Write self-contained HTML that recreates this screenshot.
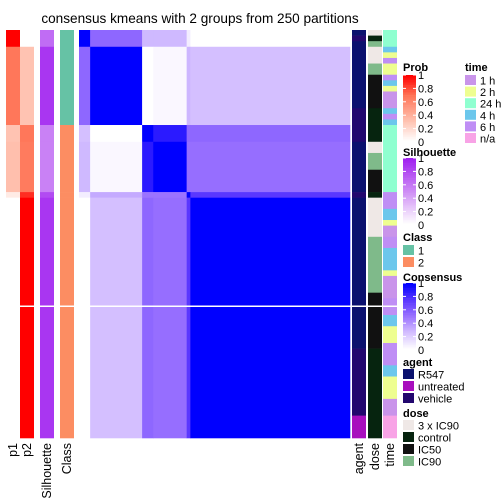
<!DOCTYPE html>
<html><head><meta charset="utf-8">
<style>
html,body{margin:0;padding:0;background:#fff;}
svg{display:block;font-family:"Liberation Sans",sans-serif;}
</style></head>
<body>
<svg id="chart" width="504" height="504" viewBox="0 0 504 504" xmlns="http://www.w3.org/2000/svg">
<text x="200" y="23" text-anchor="middle" font-size="13.6" fill="#000">consensus kmeans with 2 groups from 250 partitions</text>
<g id="hm"></g>
<g id="legends"></g>
</svg>
<script>
// segment sizes (samples) of the ordered groups
const segSizes = [3, 14, 3, 9, 1, 43];
// consensus values between segments
const consensus = [
 [1.00, 0.55, 0.27, 0.27, 0.07, 0.00],
 [0.55, 1.00, 0.00, 0.03, 0.28, 0.25],
 [0.25, 0.00, 1.00, 0.88, 0.55, 0.55],
 [0.27, 0.03, 0.88, 1.00, 0.52, 0.52],
 [0.07, 0.32, 0.50, 0.50, 1.00, 0.75],
 [0.00, 0.25, 0.55, 0.52, 0.75, 1.00]
];
const probP1 = [1.0, 0.68, 0.3, 0.32, 0.1, 0.0];
const probP2 = [0.0, 0.3, 0.68, 0.66, 0.88, 1.0];
const silhouette = [0.65, 0.9, 0.55, 0.55, 0.8, 0.9];
const classes = [1, 1, 2, 2, 2, 2];
// right annotation runs: [level, count]
const agentRuns = [["R547",1],["vehicle",1],["R547",12],["vehicle",6],["R547",9],["vehicle",1],["R547",27],["vehicle",12],["untreated",4]];
const doseRuns = [["3xIC90",1],["control",1],["IC90",1],["3xIC90",3],["IC90",2],["IC50",6],["control",6],["3xIC90",2],["IC90",3],["IC50",4],["control",1],["3xIC90",7],["IC90",10],["IC50",10],["control",16]];
const timeRuns = [["24h",3],["4h",1],["2h",1],["6h",1],["2h",2],["6h",1],["4h",1],["2h",1],["1h",3],["4h",1],["6h",1],["4h",1],["24h",12],["6h",3],["4h",2],["2h",1],["1h",2],["6h",2],["4h",4],["2h",1],["1h",4],["6h",3],["4h",2],["2h",3],["6h",4],["4h",2],["2h",4],["1h",3],["n/a",4]];
const legendTicks = ["1","0.8","0.6","0.4","0.2","0"];

const agentCol = {"R547":"#0b116e","untreated":"#a80fbe","vehicle":"#22076e"};
const doseCol = {"3xIC90":"#efe8e6","control":"#06240f","IC50":"#111111","IC90":"#7fba8a"};
const timeCol = {"1h":"#c994ea","2h":"#eefe90","24h":"#8fffd0","4h":"#6cc7ec","6h":"#bf8ef5","n/a":"#f8a3e6"};
const classCol = {1:"#66c2a5",2:"#fc8d62"};

const NS="http://www.w3.org/2000/svg";
function mk(tag, attrs, parent){const e=document.createElementNS(NS,tag);for(const k in attrs)e.setAttribute(k,attrs[k]);parent.appendChild(e);return e;}
function lerp(a,b,t){return Math.round(a+(b-a)*t);}
function ramp(stops,v){v=Math.max(0,Math.min(1,v));for(let i=1;i<stops.length;i++){if(v<=stops[i][0]){const s=stops[i-1],e=stops[i],t=(v-s[0])/(e[0]-s[0]);return `rgb(${lerp(s[1][0],e[1][0],t)},${lerp(s[1][1],e[1][1],t)},${lerp(s[1][2],e[1][2],t)})`;}}return "#000";}
const consStops=[[0,[255,255,255]],[0.25,[212,191,255]],[0.5,[155,115,255]],[0.75,[90,55,255]],[1,[0,0,255]]];
const probStops=[[0,[255,255,255]],[0.3,[255,195,178]],[0.7,[255,115,85]],[1,[255,0,0]]];
const silStops=[[0,[255,255,255]],[0.5,[206,140,245]],[1,[160,32,240]]];
const consColor=v=>ramp(consStops,v), probColor=v=>ramp(probStops,v), silColor=v=>ramp(silStops,v);

const N = segSizes.reduce((a,b)=>a+b,0);
const Y0=30, Y1=438, X0=79, X1=350;
const rowH=(Y1-Y0)/N, colW=(X1-X0)/N;
const yS=i=>Y0+i*rowH, xS=i=>X0+i*colW;
const segStart=[];let acc=0;segSizes.forEach(s=>{segStart.push(acc);acc+=s;});

const hm=document.getElementById('hm');
const leftCols=[["p1-annotation",6,probP1.map(probColor)],["p2-annotation",20,probP2.map(probColor)],["silhouette-annotation",40,silhouette.map(silColor)],["class-annotation",60,classes.map(c=>classCol[c])]];
leftCols.forEach(([name,x,cols])=>{
  const g=mk('g',{},hm);
  
  
  segSizes.forEach((s,i)=>{
    const r=mk('rect',{x:x,y:yS(segStart[i]),width:14,height:s*rowH+0.3,fill:cols[i]},g);
    
    
  });
});
const hg=mk('g',{},hm);


segSizes.forEach((rs,i)=>segSizes.forEach((cs,j)=>{
  const r=mk('rect',{x:xS(segStart[j]),y:yS(segStart[i]),width:cs*colW+0.3,height:rs*rowH+0.3,fill:consColor(consensus[i][j])},hg);
  
  
}));
[["agent-annotation",352,agentRuns,agentCol],["dose-annotation",368,doseRuns,doseCol],["time-annotation",383,timeRuns,timeCol]].forEach(([name,x,runs,cmap])=>{
  const g=mk('g',{},hm);
  
  
  let k=0;
  runs.forEach(([lv,c])=>{
    const r=mk('rect',{x:x,y:yS(k),width:14,height:c*rowH+0.3,fill:cmap[lv]},g);
    
    
    k+=c;
  });
});
const sl=mk('rect',{x:0,y:305.5,width:400,height:1.5,fill:"#fff"},hm);


[["p1",17],["p2",31],["Silhouette",51],["Class",71],["agent",363],["dose",379],["time",394]].forEach(([t,x])=>{
  const e=mk('text',{x:x,y:443,transform:`rotate(-90 ${x} 443)`,'text-anchor':'end','font-size':'12.5',fill:'#000'},hm);
  e.textContent=t;
  
  
});

const lg=document.getElementById('legends');
function title(t,x,y){const e=mk('text',{x:x,y:y,'font-size':'11','font-weight':'bold',fill:'#000'},lg);e.textContent=t;}
function gradLegend(name,t,ty,y0,fn){
  title(t,403,ty);
  const g=mk('g',{},lg);
  
  
  const h=67;
  for(let i=0;i<40;i++){mk('rect',{x:403,y:y0+i*h/40,width:13,height:h/40+0.3,fill:fn(1-i/39)},g);}
  legendTicks.forEach((lab,i)=>{
    const y=y0+i*h/5;
    mk('line',{x1:403,x2:406,y1:y,y2:y,stroke:'#fff','stroke-width':1},g);
    mk('line',{x1:413,x2:416,y1:y,y2:y,stroke:'#fff','stroke-width':1},g);
    const e=mk('text',{x:418,y:y+4,'font-size':'11',fill:'#000'},g);e.textContent=lab;
  });
}
function catLegend(name,t,tx,ty,items,y0,step){
  title(t,tx,ty);
  items.forEach(([lab,col],i)=>{
    const g=mk('g',{},lg);
    
    
    mk('rect',{x:tx,y:y0+i*step,width:11,height:10,fill:col},g);
    const e=mk('text',{x:tx+15,y:y0+i*step+9.5,'font-size':'11',fill:'#000'},g);e.textContent=lab;
  });
}
gradLegend('prob-legend','Prob',71,75,probColor);
gradLegend('silhouette-legend','Silhouette',156,158,silColor);
catLegend('class-legend','Class',403,241,[["1",classCol[1]],["2",classCol[2]]],245,12);
gradLegend('consensus-legend','Consensus',281,283,consColor);
catLegend('agent-legend','agent',403,366,[["R547",agentCol.R547],["untreated",agentCol.untreated],["vehicle",agentCol.vehicle]],369,12);
catLegend('dose-legend','dose',403,417,[["3 x IC90",doseCol["3xIC90"]],["control",doseCol.control],["IC50",doseCol.IC50],["IC90",doseCol.IC90]],420,12);
catLegend('time-legend','time',465,71,[["1 h",timeCol["1h"]],["2 h",timeCol["2h"]],["24 h",timeCol["24h"]],["4 h",timeCol["4h"]],["6 h",timeCol["6h"]],["n/a",timeCol["n/a"]]],75,11.6);
</script>
</body></html>
